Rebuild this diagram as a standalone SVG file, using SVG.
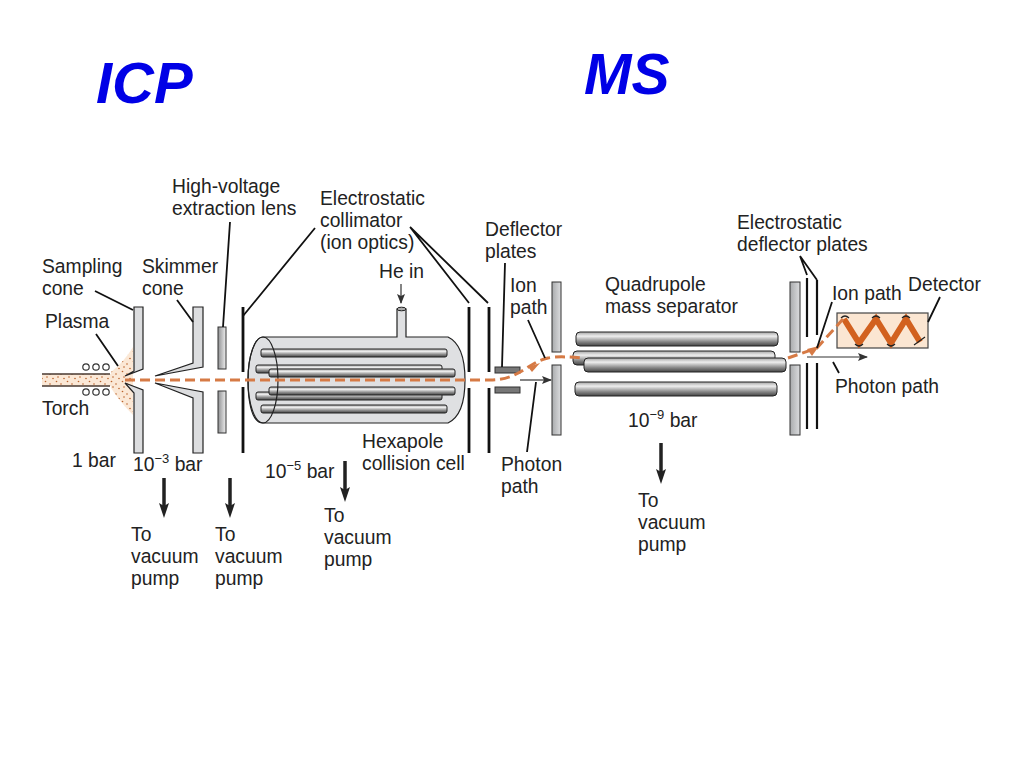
<svg xmlns="http://www.w3.org/2000/svg" width="1024" height="768" viewBox="0 0 1024 768">
<defs>
<linearGradient id="rod" x1="0" y1="0" x2="0" y2="1"><stop offset="0" stop-color="#a5a5a5"/><stop offset=".3" stop-color="#eeeeee"/><stop offset=".7" stop-color="#858585"/><stop offset="1" stop-color="#444"/></linearGradient>
<linearGradient id="plate" x1="0" y1="0" x2="1" y2="0"><stop offset="0" stop-color="#a9abad"/><stop offset="1" stop-color="#dcdddf"/></linearGradient>
<linearGradient id="lens" x1="0" y1="0" x2="1" y2="0"><stop offset="0" stop-color="#8f9092"/><stop offset="1" stop-color="#eeeeee"/></linearGradient>
<pattern id="dots" width="11" height="10" patternUnits="userSpaceOnUse"><rect width="11" height="10" fill="#fbe8d6"/><circle cx="1.500" cy="1.500" r=".8" fill="#b9622c"/><circle cx="6" cy="4" r=".8" fill="#b9622c"/><circle cx="3" cy="7" r=".8" fill="#b9622c"/><circle cx="9" cy="8.500" r=".8" fill="#b9622c"/></pattern>
<marker id="ah" markerWidth="10" markerHeight="8" refX="9" refY="4" orient="auto" markerUnits="userSpaceOnUse"><path d="M0 0L10 4L0 8L2 4Z" fill="#333"/></marker>
<marker id="big" markerWidth="16" markerHeight="12" refX="3" refY="5" orient="auto" markerUnits="userSpaceOnUse"><path d="M0 0L15 5L0 10L3 5Z" fill="#222"/></marker>
</defs>
<style>
text{font-family:"Liberation Sans",Arial,sans-serif;font-size:19.300px;fill:#222}
.title{font-size:57px;font-weight:bold;font-style:italic;fill:#0000e6}
.sup{font-size:13px}
.lead{stroke:#111;stroke-width:1.800;fill:none}
.wall{stroke:#111;stroke-width:2.800;fill:none}
.wall2{stroke:#111;stroke-width:2.200;fill:none}
.pl{fill:url(#plate);stroke:#333;stroke-width:1}
.cone{fill:#dcdddf;stroke:#222;stroke-width:1.200}
.rod{fill:url(#rod);stroke:#222;stroke-width:1}
.pump{stroke:#222;stroke-width:3.500;fill:none}
.ion{stroke:#d67a45;stroke-width:3;fill:none;stroke-dasharray:10 5}
.thin{stroke:#333;stroke-width:1.200;fill:none}
</style>
<rect width="1024" height="768" fill="#fff"/>
<text class="title" x="96" y="103" style="font-size:58px">ICP</text>
<text class="title" x="584" y="94">MS</text>
<g id="torch">
<rect x="42" y="374" width="76" height="12" fill="url(#dots)"/>
<path d="M42 374H110M42 386H110" stroke="#4a3a32" stroke-width="1.600"/>
<g fill="none" stroke="#333" stroke-width="1.200"><circle cx="86" cy="367" r="3.200"/><circle cx="96" cy="367" r="3.200"/><circle cx="106" cy="367" r="3.200"/><circle cx="86" cy="392" r="3.200"/><circle cx="96" cy="392" r="3.200"/><circle cx="106" cy="392" r="3.200"/></g>
</g>
<g id="plasma"><path d="M111 372Q124 362 133 347V415Q120 402 111 388Z" fill="url(#dots)"/></g>
<g id="sampling-cone"><path class="cone" d="M134 307H143V369L125 376L134 371ZM125 383L143 390V453H134V393Z"/></g>
<g id="skimmer-cone"><path class="cone" d="M193 307H203V367L155 376L193 363ZM155 383L203 392V453H193V398Z"/></g>
<g id="extraction-lens"><rect x="218" y="327" width="8" height="42" fill="url(#lens)" stroke="#333"/><rect x="218" y="391" width="8" height="42" fill="url(#lens)" stroke="#333"/></g>
<g id="collimator-walls"><path class="wall" d="M243 307V372M243 387V453M469 307V372M469 388V453M489 307V372M489 388V453"/></g>
<g id="hexapole-cell">
<path d="M397 337V309H406V337H448Q465 345 465 380Q465 415 448 423H263C250 423 248 395 248 380C248 355 255 337 263 337Z" fill="#dfe0e2" stroke="#222" stroke-width="1.200"/>
<ellipse cx="401.500" cy="309" rx="4.500" ry="1.800" fill="#aaa" stroke="#222"/>
<rect class="rod" x="256" y="365" width="186" height="8" rx="2"/>
<rect class="rod" x="256" y="392" width="186" height="8" rx="2"/>
<rect class="rod" x="261" y="349" width="186" height="8" rx="2"/>
<rect class="rod" x="269" y="369" width="186" height="8" rx="2"/>
<rect class="rod" x="269" y="387" width="186" height="8" rx="2"/>
<rect class="rod" x="261" y="405" width="186" height="8" rx="2"/>
<ellipse cx="263" cy="380" rx="15" ry="43" fill="none" stroke="#222" stroke-width="1.200"/>
</g>
<g id="deflector-plates"><rect x="495" y="367" width="25" height="6" fill="#777" stroke="#333"/><rect x="495" y="387" width="25" height="6" fill="#777" stroke="#333"/></g>
<g id="ms-entrance-plate"><rect class="pl" x="552" y="282" width="9" height="70"/><rect class="pl" x="552" y="365" width="9" height="70"/></g>
<g id="quadrupole">
<rect class="rod" x="573" y="351" width="202" height="14" rx="4"/>
<rect class="rod" x="576" y="332" width="202" height="14" rx="4"/>
<rect class="rod" x="575" y="382" width="202" height="14" rx="4"/>
<rect class="rod" x="584" y="358" width="202" height="14" rx="4"/>
</g>
<g id="ms-exit-plate"><rect class="pl" x="790" y="282" width="10" height="70"/><rect class="pl" x="790" y="365" width="10" height="70"/></g>
<g id="deflector-walls"><path class="wall2" d="M807 278V337M817 280V335M807 363V429M817 363V429"/></g>
<g id="detector">
<rect x="837" y="313" width="91" height="35" fill="#fbe6d2" stroke="#444" stroke-width="1.200"/>
<path d="M844 319L859 343L876 319L891 343L906 319L920 342" fill="none" stroke="#d2611f" stroke-width="6"/>
<path d="M841 318Q845 314 849 318M855 344Q859 348 863 344M872 318Q876 314 880 318M887 344Q891 348 895 344M902 318Q906 314 910 318M914 345L925 337" fill="none" stroke="#222" stroke-width="1.200"/>
</g>
<g id="connectors">
<path class="ion" d="M125 380H490C520 380 528 362 548 358C558 356 570 357 584 358"/>
<path class="ion" d="M788 358L817 348L843 319"/>
<path d="M528 367L540 363L532 372Z" fill="#d67a45"/>
<path d="M807 349L819 346L812 356Z" fill="#d67a45"/>
<path class="thin" d="M520 380H551" marker-end="url(#ah)"/>
<path class="thin" d="M807 357H867" marker-end="url(#ah)"/>
<path class="thin" d="M401 284V303" marker-end="url(#ah)"/>
<path class="lead" d="M95 291L133 310M177 300L193 322M96 334L118 366M230 222L223 327M315 228L243 316M410 227L469 303M410 227L488 303M505 263L502 367M528 320L545 358M536 382L527 452M800 256L807 275M800 256L817 280M832 302L817 348M940 297L928 322M833 362L839 373"/>
<path class="pump" d="M164 478V506" marker-end="url(#big)"/>
<path class="pump" d="M230 478V506" marker-end="url(#big)"/>
<path class="pump" d="M345 461V490" marker-end="url(#big)"/>
<path class="pump" d="M661 443V472" marker-end="url(#big)"/>
</g>
<g id="labels">
<text x="172" y="193">High-voltage</text><text x="172" y="215">extraction lens</text>
<text x="320" y="205">Electrostatic</text><text x="320" y="227">collimator</text><text x="320" y="249">(ion optics)</text>
<text x="42" y="273">Sampling</text><text x="42" y="295">cone</text>
<text x="142" y="273">Skimmer</text><text x="142" y="295">cone</text>
<text x="45" y="328">Plasma</text><text x="42" y="415">Torch</text>
<text x="379" y="278">He in</text>
<text x="485" y="236">Deflector</text><text x="485" y="258">plates</text>
<text x="510" y="292">Ion</text><text x="510" y="314">path</text>
<text x="605" y="291">Quadrupole</text><text x="605" y="313">mass separator</text>
<text x="737" y="229">Electrostatic</text><text x="737" y="251">deflector plates</text>
<text x="832" y="300">Ion path</text><text x="908" y="291">Detector</text>
<text x="835" y="393">Photon path</text>
<text x="362" y="448">Hexapole</text><text x="362" y="470">collision cell</text>
<text x="501" y="471">Photon</text><text x="501" y="493">path</text>
<text x="72" y="467">1 bar</text>
<text x="133" y="471">10<tspan class="sup" dy="-8">−3</tspan><tspan dy="8"> bar</tspan></text>
<text x="265" y="478">10<tspan class="sup" dy="-8">−5</tspan><tspan dy="8"> bar</tspan></text>
<text x="628" y="427">10<tspan class="sup" dy="-8">−9</tspan><tspan dy="8"> bar</tspan></text>
<text x="131" y="541">To</text><text x="131" y="563">vacuum</text><text x="131" y="585">pump</text>
<text x="215" y="541">To</text><text x="215" y="563">vacuum</text><text x="215" y="585">pump</text>
<text x="324" y="522">To</text><text x="324" y="544">vacuum</text><text x="324" y="566">pump</text>
<text x="638" y="507">To</text><text x="638" y="529">vacuum</text><text x="638" y="551">pump</text>
</g>
</svg>
